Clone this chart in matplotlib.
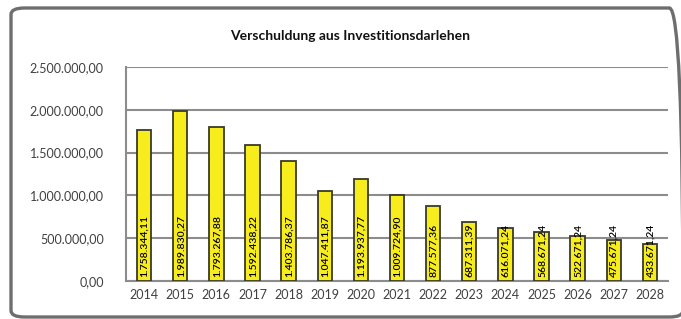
import numpy as np
import matplotlib.pyplot as plt
from matplotlib.patches import FancyBboxPatch

plt.rcParams['font.family'] = ['Lato', 'DejaVu Sans']

years = ['2014', '2015', '2016', '2017', '2018', '2019', '2020', '2021',
         '2022', '2023', '2024', '2025', '2026', '2027', '2028']
debt = [1758344.11, 1989830.27, 1793267.88, 1592438.22, 1403786.37,
        1047411.87, 1193937.77, 1009724.90, 877577.36, 687311.39,
        616071.24, 568671.24, 522671.24, 475671.24, 433671.24]
yticks = [0, 500000, 1000000, 1500000, 2000000, 2500000]


def de_fmt(v):
    s = '{:,.2f}'.format(v)
    return s.replace(',', 'X').replace('.', ',').replace('X', '.')


fig = plt.figure(figsize=(6.81, 3.19), dpi=100)
fig.patch.set_facecolor('white')

# outer chart frame with rounded corners
frame = FancyBboxPatch((11/681, 2/319), 672/681, 309/319,
                       boxstyle='round,pad=0,rounding_size=0.02',
                       transform=fig.transFigure, fill=False,
                       edgecolor='#6e6e6e', lw=2.4, zorder=0)
fig.patches.append(frame)

ax = fig.add_axes([126/681, 1 - 281/319, 542/681, 214/319])
x = np.arange(len(years))
ax.bar(x, debt, width=0.4, color='#f7ec1c', edgecolor='#3a3a2a', lw=1.3, zorder=3)

for xi, v in zip(x, debt):
    ax.annotate(de_fmt(v), (xi, 0), xytext=(0.5, 3), textcoords='offset points',
                rotation=90, ha='center', va='bottom', fontsize=7.5,
                fontweight='semibold', color='black', zorder=4)

ax.set_ylim(0, 2500000)
ax.set_xlim(-0.5, len(years) - 0.5)
ax.set_yticks(yticks)
ax.set_yticklabels([de_fmt(t) for t in yticks])
ax.set_xticks(x)
ax.set_xticklabels(years)
ax.tick_params(axis='both', length=0, labelsize=9, colors='#404040')
ax.tick_params(axis='y', pad=16)
ax.tick_params(axis='x', pad=6)
ax.yaxis.grid(True, color='#8c8c8c', lw=1.5, zorder=0)
ax.set_axisbelow(True)
for s in ['top', 'right']:
    ax.spines[s].set_visible(False)
for s in ['left', 'bottom']:
    ax.spines[s].set_color('#8c8c8c')
    ax.spines[s].set_linewidth(1.5)

fig.text(350/681, 1 - 36/319, 'Verschuldung aus Investitionsdarlehen',
         ha='center', va='center', fontsize=10, fontweight='bold', color='#111111')

fig.savefig('out.png', dpi=100)
